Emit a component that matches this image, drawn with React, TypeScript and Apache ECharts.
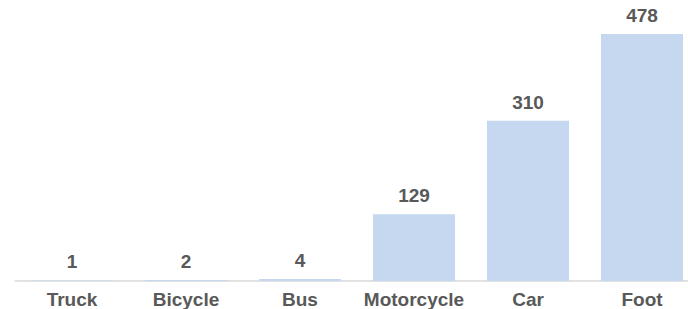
import React, { useEffect, useRef } from "react";
import * as echarts from "echarts";

const categories = ["Truck", "Bicycle", "Bus", "Motorcycle", "Car", "Foot"];
const values = [1, 2, 4, 129, 310, 478];

export default function App() {
  const ref = useRef<HTMLDivElement>(null);
  useEffect(() => {
    if (!ref.current) return;
    const chart = echarts.init(ref.current, null, { renderer: "svg" });
    chart.setOption({
      animation: false,
      grid: { left: 15, right: 0, top: 34, bottom: 28, containLabel: false },
      xAxis: {
        type: "category",
        data: categories,
        axisLine: { show: true, lineStyle: { color: "#D9D9D9", width: 1.5 } },
        axisTick: { show: false },
        axisLabel: {
          interval: 0,
          color: "#595959",
          fontFamily: "Liberation Sans",
          fontWeight: "bold",
          fontSize: 19,
          margin: 9,
        },
      },
      yAxis: {
        type: "value",
        min: 0,
        max: 478,
        show: false,
        splitLine: { show: false },
      },
      series: [
        {
          type: "bar",
          data: values,
          barWidth: "72%",
          itemStyle: { color: "#C5D8EF" },
          label: {
            show: true,
            position: "top",
            distance: 9,
            color: "#595959",
            fontFamily: "Liberation Sans",
            fontWeight: "bold",
            fontSize: 19,
          },
        },
      ],
    });
    return () => chart.dispose();
  }, []);
  return (
    <div style={{ width: 688, height: 309, position: "absolute", left: 0, top: 0, overflow: "hidden", background: "#fff" }}>
      <div ref={ref} style={{ width: 699, height: 309 }} />
    </div>
  );
}
